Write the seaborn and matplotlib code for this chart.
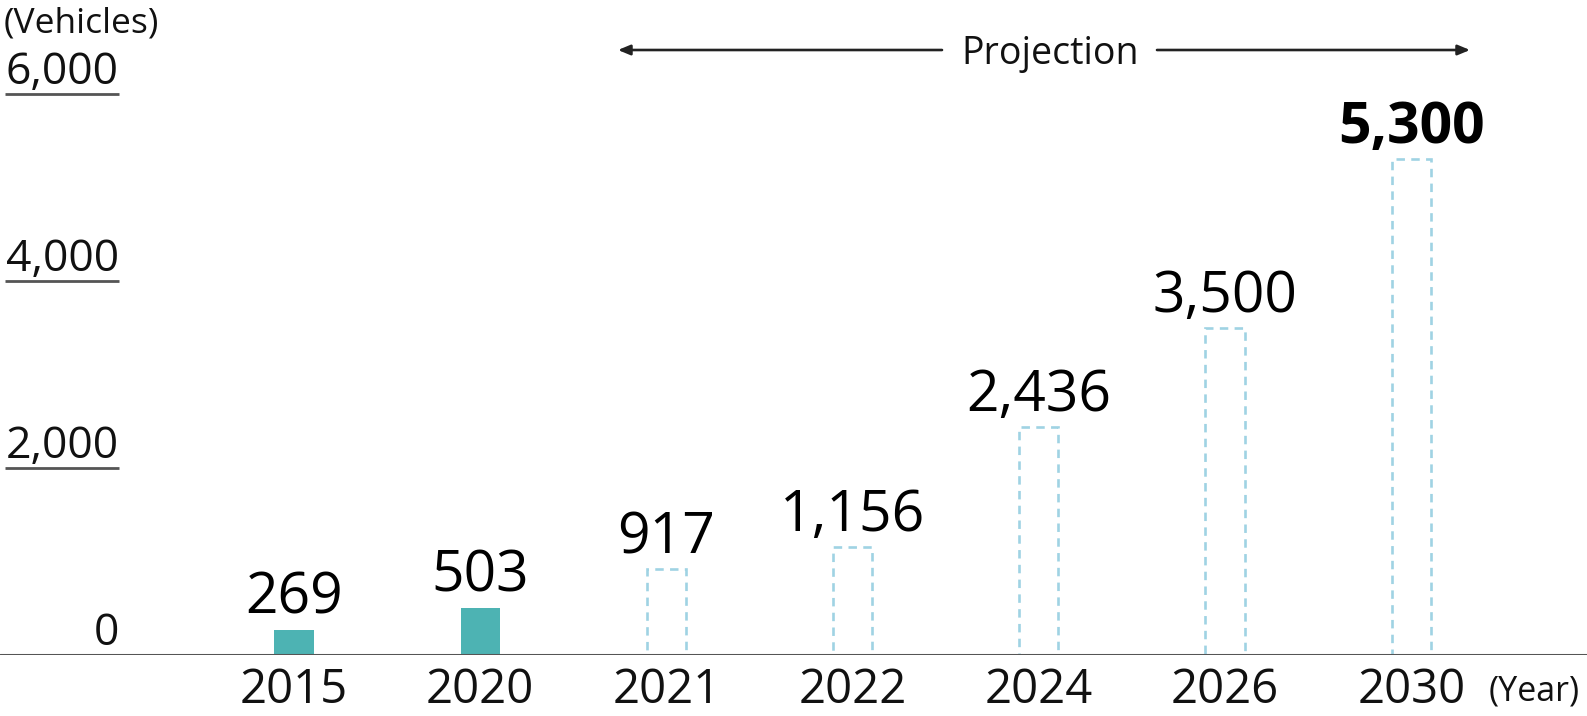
import matplotlib
matplotlib.use("Agg")
import matplotlib.pyplot as plt
import matplotlib.transforms as mtransforms
import pandas as pd
import seaborn as sns

# Vehicle counts by year: actual figures followed by projections
years = ["2015", "2020", "2021", "2022", "2024", "2026", "2030"]
vehicles = [269, 503, 917, 1156, 2436, 3500, 5300]
status = ["Actual", "Actual", "Projection", "Projection", "Projection", "Projection", "Projection"]
value_labels = ["269", "503", "917", "1,156", "2,436", "3,500", "5,300"]
y_ticks = [0, 2000, 4000, 6000]
y_tick_labels = ["0", "2,000", "4,000", "6,000"]

TEAL = "#4db3b3"
DASH_BLUE = "#9fd3e3"
AXIS_GREY = "#555555"

sns.set_style("white")
plt.rcParams["font.family"] = ["Open Sans", "DejaVu Sans"]

W, H, DPI = 1587, 716, 100
fig = plt.figure(figsize=(W / DPI, H / DPI), dpi=DPI)

# axes: baseline at 655 px from top, 6,000 at 94 px from top, full width
ax_bottom = (H - 655) / H
ax_height = (655 - 94) / H
ax = fig.add_axes([0, ax_bottom, 1, ax_height])

df = pd.DataFrame({"year": years, "vehicles": vehicles, "status": status})
sns.barplot(data=df, x="year", y="vehicles", order=years, width=0.21,
            color=TEAL, saturation=1, ax=ax, errorbar=None)

for patch, st in zip(ax.patches, status):
    patch.set_linewidth(0)
    if st == "Projection":
        patch.set_facecolor("none")
        patch.set_edgecolor(DASH_BLUE)
        patch.set_linewidth(1.9)
        patch.set_linestyle((0, (3.2, 2.4)))

# category i sits at 294 + i*186.2 px
step = 186.2
x0 = -294 / step
ax.set_xlim(x0, x0 + W / step)
ax.set_ylim(0, 6000)

for sp in ax.spines.values():
    sp.set_visible(False)
ax.axhline(0, color=AXIS_GREY, lw=2.2, zorder=5)

ax.set_xlabel("")
ax.set_ylabel("")
ax.set_yticks([])
ax.tick_params(axis="x", length=0, pad=34.5, labelsize=34, colors="#111111")
plt.setp(ax.get_xticklabels(), va="baseline")

# value labels above each bar
for i, (v, lab) in enumerate(zip(vehicles, value_labels)):
    bold = i == len(vehicles) - 1
    ax.annotate(lab, xy=(i, v), xytext=(0, 11.5), textcoords="offset points",
                ha="center", va="baseline", fontsize=41,
                fontweight="bold" if bold else "normal", color="#000000")

# y-axis labels with underline rules at the left edge
trans = mtransforms.blended_transform_factory(fig.transFigure, ax.transData)
for yv, lab in zip(y_ticks, y_tick_labels):
    ax.annotate(lab, xy=(119 / W, yv), xycoords=trans, xytext=(0, 7),
                textcoords="offset points", ha="right", va="baseline",
                fontsize=32, color="#111111", annotation_clip=False)
    if yv > 0:
        ax.plot([5 / W, 119 / W], [yv, yv], transform=trans, color=AXIS_GREY,
                lw=2, clip_on=False, solid_capstyle="butt")

fig.text(4 / W, 1 - 32 / H, "(Vehicles)", fontsize=25.5, ha="left",
         va="baseline", color="#111111")
fig.text(1580 / W, 1 - 701 / H, "(Year)", fontsize=24.5, ha="right",
         va="baseline", color="#111111")

# projection span marker
arrow_y = 1 - 50 / H
fig.text(1050 / W, 1 - 64 / H, "Projection", fontsize=27, ha="center",
         va="baseline", color="#111111")
arrow_kw = dict(arrowstyle="-|>,head_length=0.6,head_width=0.25",
                color="#222222", lw=1.9, shrinkA=0, shrinkB=0)
fig.add_artist(matplotlib.patches.FancyArrowPatch(
    (942 / W, arrow_y), (618 / W, arrow_y), transform=fig.transFigure,
    mutation_scale=12, **arrow_kw))
fig.add_artist(matplotlib.patches.FancyArrowPatch(
    (1157 / W, arrow_y), (1470 / W, arrow_y), transform=fig.transFigure,
    mutation_scale=12, **arrow_kw))

fig.savefig("out.png", dpi=DPI, facecolor="white")
